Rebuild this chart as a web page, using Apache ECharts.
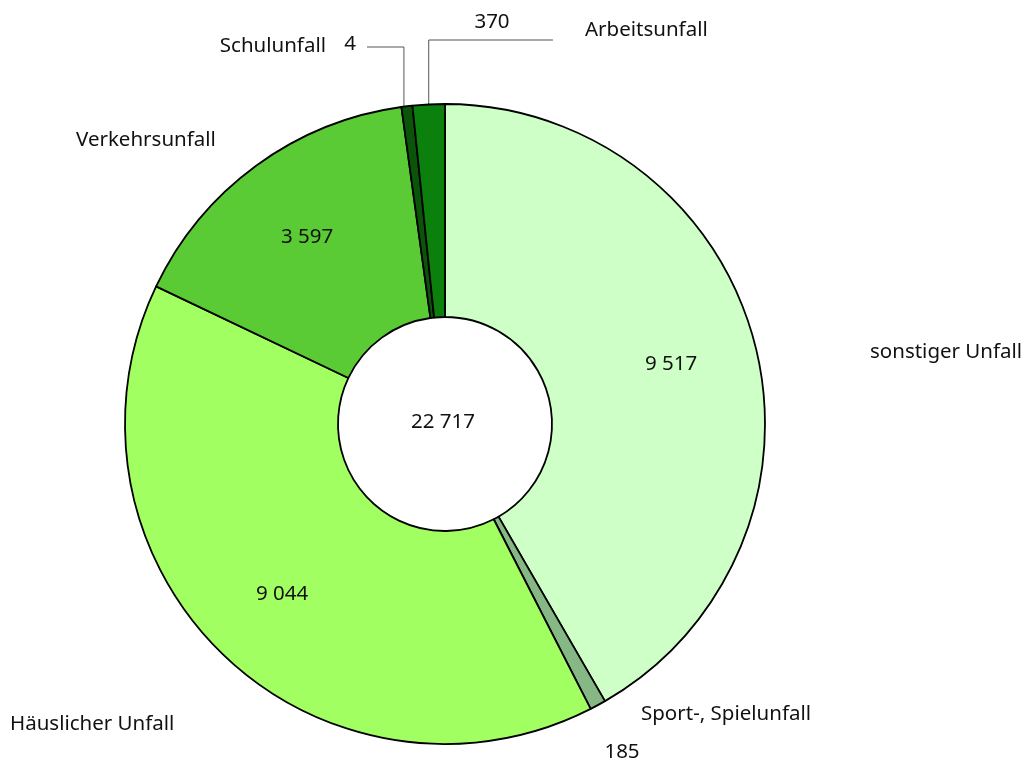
<!DOCTYPE html>
<html>
<head>
<meta charset="utf-8">
<script src="https://cdn.jsdelivr.net/npm/echarts@6/dist/echarts.min.js"></script>
<style>
  html, body { margin: 0; padding: 0; background: #fff; }
  #main { width: 1027px; height: 764px; }
</style>
</head>
<body>
<div id="main"></div>
<script>
// Unfallarten, Reihenfolge im Uhrzeigersinn ab 12 Uhr
var kategorien = ['sonstiger Unfall', 'Sport-, Spielunfall', 'Häuslicher Unfall', 'Verkehrsunfall', 'Schulunfall', 'Arbeitsunfall'];
var faelle = [9517, 185, 9044, 3597, 4, 370];
var farben = ['#ceffc6', '#86b886', '#a2ff62', '#5acb35', '#0b550b', '#0c800c'];

var schrift = 'Noto Sans';
var groesse = 20.5;
var cx = 445, cy = 424;

function tausender(v) {
	return String(v).replace(/\B(?=(\d{3})+(?!\d))/g, ' ');
}

var summe = faelle.reduce(function (a, b) { return a + b; }, 0);

// wo die Beschriftungen stehen (Name bzw. Wert)
var namePos = [
	[870, 352, 'left'], [641, 714, 'left'], [10, 724, 'left'],
	[76, 140, 'left'], [326, 46, 'right'], [585, 30, 'left']
];
var wertPos = [
	[671, 364], [622, 752], [282, 594], [307, 237], [350, 44], [492, 22]
];

var myChart = echarts.init(document.getElementById('main'));

var option = {
	animation: false,
	graphic: [{
		type: 'text',
		x: cx - 2, y: cy - 2,
		style: {
			text: tausender(summe),
			font: groesse + 'px ' + schrift,
			fill: '#111',
			align: 'center',
			verticalAlign: 'middle'
		}
	}],
	series: [{
		type: 'pie',//Ring mit Namen
		name: 'Unfallart',
		center: [cx, cy],
		radius: [107, 320],
		startAngle: 90,
		clockwise: true,
		minAngle: 2,
		avoidLabelOverlap: false,
		itemStyle: { borderColor: '#000', borderWidth: 1.8 },
		label: {
			show: true,
			position: 'outside',
			formatter: '{b}',
			color: '#111',
			fontFamily: schrift,
			fontSize: groesse
		},
		labelLine: { show: false },
		labelLayout: function (p) {
			var q = namePos[p.dataIndex];
			return { x: q[0], y: q[1], align: q[2], verticalAlign: 'middle' };
		},
		data: kategorien.map(function (k, i) {
			return { name: k, value: faelle[i], itemStyle: { color: farben[i] } };
		})
	}, {
		type: 'pie',//gleicher Ring, nur fuer die Zahlen
		name: 'Werte',
		silent: true,
		center: [cx, cy],
		radius: [107, 320],
		startAngle: 90,
		clockwise: true,
		minAngle: 2,
		avoidLabelOverlap: false,
		itemStyle: { color: 'rgba(0,0,0,0)', borderWidth: 0 },
		label: {
			show: true,
			position: 'outside',
			formatter: function (p) { return tausender(p.value); },
			color: '#111',
			fontFamily: schrift,
			fontSize: groesse
		},
		labelLine: { show: false, lineStyle: { color: '#555', width: 1 } },
		labelLayout: function (p) {
			var q = wertPos[p.dataIndex];
			var res = { x: q[0], y: q[1], align: 'center', verticalAlign: 'middle' };
			if (p.labelLinePoints && p.dataIndex === 5) {
				var s = p.labelLinePoints[0];
				res.labelLinePoints = [[s[0], s[1]], [s[0], 40], [553, 40]];
			}
			if (p.labelLinePoints && p.dataIndex === 4) {
				var t = p.labelLinePoints[0];
				res.labelLinePoints = [[t[0] - 3, t[1]], [t[0] - 3, 47], [367, 47]];
			}
			return res;
		},
		data: kategorien.map(function (k, i) {
			var d = { name: k, value: faelle[i] };
			if (i >= 4) d.labelLine = { show: true };
			return d;
		})
	}]
};

myChart.setOption(option);
</script>
</body>
</html>
